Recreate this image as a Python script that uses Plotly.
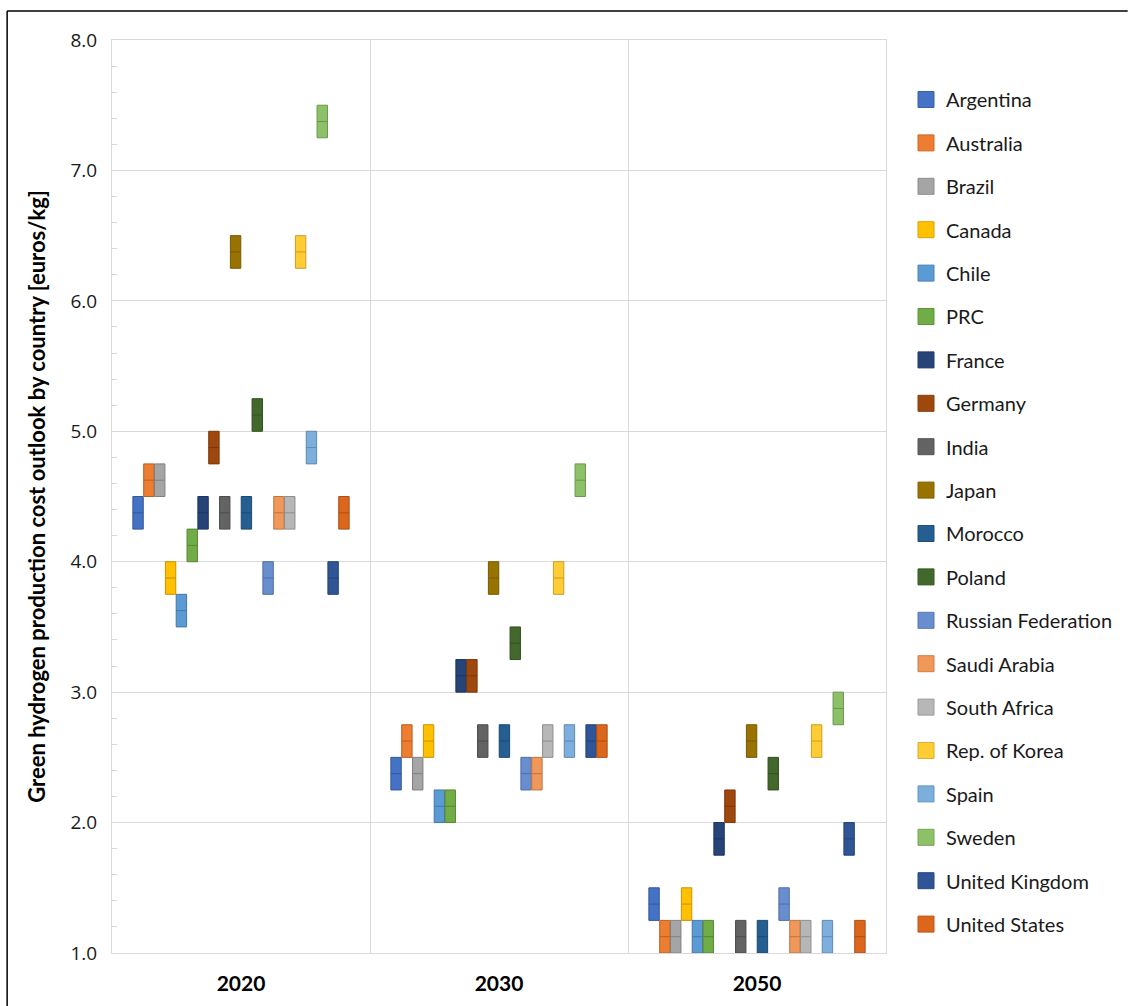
import plotly.graph_objects as go

years = ["2020", "2030", "2050"]
countries = ["Argentina", "Australia", "Brazil", "Canada", "Chile", "PRC", "France",
             "Germany", "India", "Japan", "Morocco", "Poland", "Russian Federation",
             "Saudi Arabia", "South Africa", "Rep. of Korea", "Spain", "Sweden",
             "United Kingdom", "United States"]

low_2020 = [4.25, 4.5, 4.5, 3.75, 3.5, 4.0, 4.25, 4.75, 4.25, 6.25, 4.25, 5.0, 3.75, 4.25, 4.25, 6.25, 4.75, 7.25, 3.75, 4.25]
med_2020 = [4.375, 4.625, 4.625, 3.875, 3.625, 4.125, 4.375, 4.875, 4.375, 6.375, 4.375, 5.125, 3.875, 4.375, 4.375, 6.375, 4.875, 7.375, 3.875, 4.375]
high_2020 = [4.5, 4.75, 4.75, 4.0, 3.75, 4.25, 4.5, 5.0, 4.5, 6.5, 4.5, 5.25, 4.0, 4.5, 4.5, 6.5, 5.0, 7.5, 4.0, 4.5]

low_2030 = [2.25, 2.5, 2.25, 2.5, 2.0, 2.0, 3.0, 3.0, 2.5, 3.75, 2.5, 3.25, 2.25, 2.25, 2.5, 3.75, 2.5, 4.5, 2.5, 2.5]
med_2030 = [2.375, 2.625, 2.375, 2.625, 2.125, 2.125, 3.125, 3.125, 2.625, 3.875, 2.625, 3.375, 2.375, 2.375, 2.625, 3.875, 2.625, 4.625, 2.625, 2.625]
high_2030 = [2.5, 2.75, 2.5, 2.75, 2.25, 2.25, 3.25, 3.25, 2.75, 4.0, 2.75, 3.5, 2.5, 2.5, 2.75, 4.0, 2.75, 4.75, 2.75, 2.75]

low_2050 = [1.25, 1.0, 1.0, 1.25, 1.0, 1.0, 1.75, 2.0, 1.0, 2.5, 1.0, 2.25, 1.25, 1.0, 1.0, 2.5, 1.0, 2.75, 1.75, 1.0]
med_2050 = [1.375, 1.125, 1.125, 1.375, 1.125, 1.125, 1.875, 2.125, 1.125, 2.625, 1.125, 2.375, 1.375, 1.125, 1.125, 2.625, 1.125, 2.875, 1.875, 1.125]
high_2050 = [1.5, 1.25, 1.25, 1.5, 1.25, 1.25, 2.0, 2.25, 1.25, 2.75, 1.25, 2.5, 1.5, 1.25, 1.25, 2.75, 1.25, 3.0, 2.0, 1.25]

colors = ["#4472C4", "#ED7D31", "#A5A5A5", "#FFC000", "#5B9BD5", "#70AD47", "#264478",
          "#9E480E", "#636363", "#997300", "#255E91", "#43682B", "#698ED0", "#F1975A",
          "#B7B7B7", "#FFCD33", "#7CAFDD", "#8CC168", "#2F5597", "#DC661C"]


def darker(hexc, f=0.78):
    h = hexc.lstrip("#")
    r, g, b = (int(h[i:i + 2], 16) for i in (0, 2, 4))
    return "#%02x%02x%02x" % (int(r * f), int(g * f), int(b * f))


fig = go.Figure()
for i, name in enumerate(countries):
    q1 = [low_2020[i], low_2030[i], low_2050[i]]
    md = [med_2020[i], med_2030[i], med_2050[i]]
    q3 = [high_2020[i], high_2030[i], high_2050[i]]
    fig.add_trace(go.Box(
        x=years, q1=q1, median=md, q3=q3, lowerfence=q1, upperfence=q3,
        name=name, fillcolor=colors[i], line=dict(color=darker(colors[i]), width=1),
        whiskerwidth=0, showlegend=False, legendgroup=name, offsetgroup=name,
    ))
    fig.add_trace(go.Scatter(
        x=[None], y=[None], mode="markers", name=name, legendgroup=name,
        marker=dict(symbol="square", size=18, color=colors[i],
                    line=dict(color=darker(colors[i], 0.85), width=1)),
    ))

grid = "#d9d9d9"
W, H = 1129, 1006
L, R, T, B = 112, 242, 40, 53
PW, PH = W - L - R, H - T - B

fig.update_layout(
    width=W, height=H,
    margin=dict(l=L, r=R, t=T, b=B),
    paper_bgcolor="white", plot_bgcolor="white",
    boxmode="group", boxgap=0.16, boxgroupgap=0.04,
    font=dict(family="Lato, Open Sans, sans-serif", color="#000000"),
    legend=dict(x=(906 - L) / PW, xanchor="left", y=1 - (80 - T) / PH, yanchor="top",
                font=dict(size=20, family="Lato, sans-serif", color="#1a1a1a"),
                tracegroupgap=14.4, traceorder="grouped", itemsizing="trace",
                bgcolor="rgba(0,0,0,0)"),
    xaxis=dict(type="category", categoryorder="array", categoryarray=years,
               tickson="boundaries", showgrid=True, gridcolor=grid, gridwidth=1,
               showline=True, linecolor=grid, linewidth=1, mirror=True,
               ticks="", ticklabelstandoff=12,
               tickfont=dict(size=21, family="Lato, sans-serif", weight="bold"),
               fixedrange=True),
    yaxis=dict(range=[1, 8], dtick=1, tick0=1, tickformat=".1f",
               showgrid=True, gridcolor=grid, gridwidth=1,
               showline=True, linecolor=grid, linewidth=1, mirror=True,
               ticks="", ticklabelstandoff=10,
               tickfont=dict(size=19, family="Open Sans, sans-serif", color="#1a1a1a"),
               minor=dict(dtick=0.2, ticks="inside", ticklen=5, tickcolor=grid, showgrid=False),
               title=dict(text="<b>Green hydrogen production cost outlook by country [euros/kg]</b>",
                          font=dict(size=22, family="Lato, sans-serif"), standoff=18),
               zeroline=False),
    shapes=[
        dict(type="line", xref="paper", yref="paper", x0=(7 - L) / PW, x1=(W - L) / PW,
             y0=1 + (T - 11) / PH, y1=1 + (T - 11) / PH, line=dict(color="black", width=1.5)),
        dict(type="line", xref="paper", yref="paper", x0=(7 - L) / PW, x1=(7 - L) / PW,
             y0=1 + (T - 11) / PH, y1=-B / PH, line=dict(color="black", width=1.5)),
    ],
)

fig.write_html("out.html", config={"displayModeBar": False},
               post_script="document.body.style.margin='0';")
